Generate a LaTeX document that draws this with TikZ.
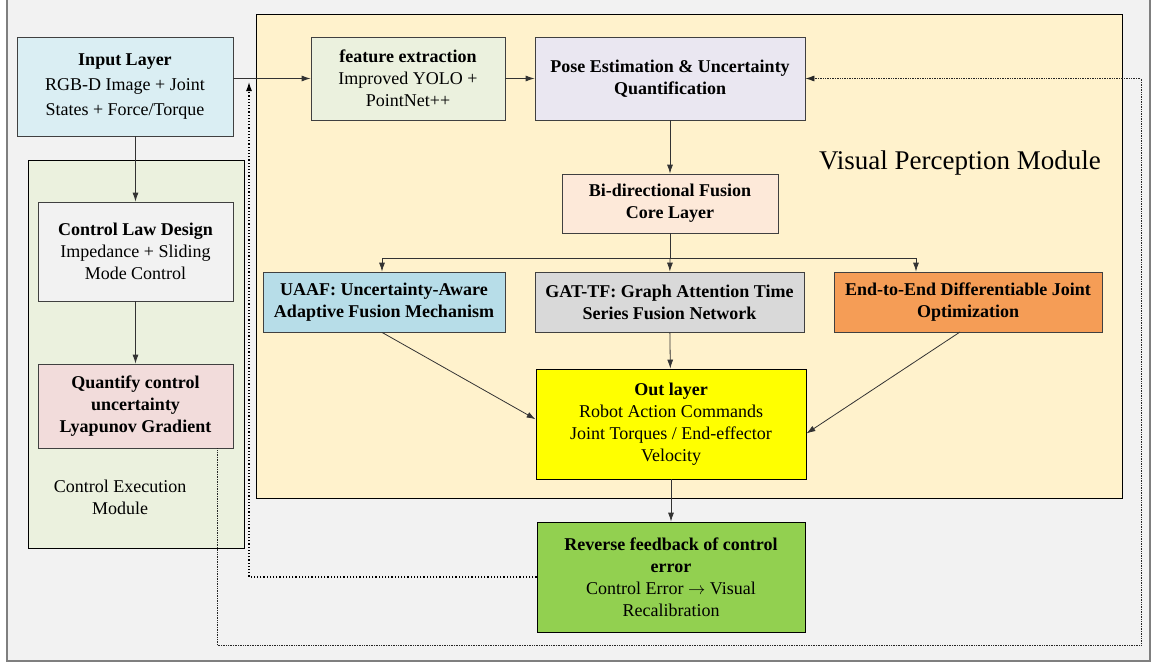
\documentclass[tikz,border=0pt]{standalone}
\usepackage{fontspec}
\setmainfont{Liberation Serif}
\usepackage{tikz}
\usetikzlibrary{arrows.meta}
\definecolor{bgGray}{HTML}{F2F2F2}
\definecolor{frameGray}{HTML}{7F7F7F}
\definecolor{yellowMod}{HTML}{FFF2CC}
\definecolor{greenMod}{HTML}{EBF1DE}
\definecolor{inputBlue}{HTML}{DAEEF3}
\definecolor{quantPink}{HTML}{F2DCDB}
\definecolor{poseLav}{HTML}{EAE7F1}
\definecolor{biPeach}{HTML}{FDE9D9}
\definecolor{uaafBlue}{HTML}{B7DDE8}
\definecolor{gatGray}{HTML}{D9D9D9}
\definecolor{endOrange}{HTML}{F59D56}
\definecolor{outYellow}{HTML}{FFFF00}
\definecolor{revGreen}{HTML}{92D050}
\tikzset{>={Latex[length=9pt,width=6pt]},font=\fontsize{18}{22}\selectfont,
  blk/.style={draw=black!75,line width=0.8pt,align=center,inner sep=2pt},
  hd/.style={font=\fontsize{18}{22}\selectfont\bfseries},
  module/.style={draw=black,line width=0.9pt},
  line/.style={color=black!80,line width=0.8pt},
  fb/.style={draw=black,line width=1.2pt,dotted},
  fbthin/.style={draw=black!85,line width=0.7pt,densely dotted}}
\begin{document}
\begin{tikzpicture}[x=1pt,y=-1pt]
\useasboundingbox (0,0) rectangle (1153,664);
% frames
\draw[draw=frameGray,fill=bgGray,line width=1.5pt] (7,-5) rectangle (1150,661);
\draw[module,fill=yellowMod] (256,14) rectangle (1122,498);
\draw[module,fill=greenMod] (28,160) rectangle (244,548);
\node (vpm) at (960,163) {\fontsize{27}{32}\selectfont Visual Perception Module};
\node (cem) [align=center] at (120,497) {Control Execution\\Module};

% control execution side
\node (inp) [blk,fill=inputBlue,minimum width=216pt,minimum height=99pt,
  font=\fontsize{18}{25}\selectfont] at (125,86.5)
  {\textbf{Input Layer}\\RGB-D Image + Joint\\States + Force/Torque};
\node (ctl) [blk,fill=bgGray,minimum width=195pt,minimum height=99pt] at (135.5,251.5)
  {\textbf{Control Law Design}\\Impedance + Sliding\\Mode Control};
\node (qc) [blk,hd,fill=quantPink,minimum width=195pt,minimum height=84pt] at (135.5,406)
  {Quantify control\\uncertainty\\Lyapunov Gradient};

% visual perception side
\node (feat) [blk,fill=greenMod,minimum width=194pt,minimum height=83pt] at (408,78.5)
  {\textbf{feature extraction}\\Improved YOLO +\\PointNet++};
\node (pose) [blk,hd,fill=poseLav,minimum width=270pt,minimum height=83pt] at (670,78.5)
  {Pose Estimation \& Uncertainty\\Quantification};
\node (bi) [blk,hd,fill=biPeach,minimum width=216pt,minimum height=59pt] at (670,203.5)
  {Bi-directional Fusion\\Core Layer};
\node (uaaf) [blk,hd,fill=uaafBlue,minimum width=242pt,minimum height=60pt] at (384,302)
  {UAAF: Uncertainty-Aware\\Adaptive Fusion Mechanism};
\node (gat) [blk,hd,fill=gatGray,minimum width=269pt,minimum height=60pt] at (669.5,302)
  {GAT-TF: Graph Attention Time\\Series Fusion Network};
\node (e2e) [blk,hd,fill=endOrange,minimum width=268pt,minimum height=60pt] at (968,302)
  {End-to-End Differentiable Joint\\Optimization};
\node (outl) [blk,fill=outYellow,draw=black,minimum width=270pt,minimum height=110pt] at (671,424)
  {\textbf{Out layer}\\Robot Action Commands\\Joint Torques / End-effector\\Velocity};
\node (rev) [blk,fill=revGreen,draw=black,minimum width=268pt,minimum height=110pt] at (671,577)
  {\textbf{Reverse feedback of control}\\\textbf{error}\\Control Error \(\rightarrow\) Visual\\Recalibration};

% connectors
\coordinate (jl) at (382,258);
\coordinate (jr) at (916,258);
\coordinate (fbtop) at (249,82);
\coordinate (qd) at (217,645);
\coordinate (qr) at (1141,645);
\coordinate (ue) at (960,332);
\path[->,line]
(inp.south -| ctl.north) edge (ctl.north)
(ctl) edge (qc)
(inp.east |- feat.west) edge (feat.west)
(feat) edge (pose)
(pose) edge (bi)
;
\draw[line] (bi) -- (bi |- jl) (jl) -- (jr);
\path[->,line]
(jl) edge (jl |- uaaf.north)
(bi |- jl) edge (gat)
(jr) edge (jr |- e2e.north)
(jl |- uaaf.south) edge (outl.178)
(ue) edge (outl.-4)
(gat) edge (outl)
(outl) edge (rev)
;
\draw[->,fb] (rev.west) -| (fbtop);
\draw[->,fbthin] (qc.south -| qd) -- (qd) -- (qr) |- (pose.east);
\end{tikzpicture}
\end{document}
